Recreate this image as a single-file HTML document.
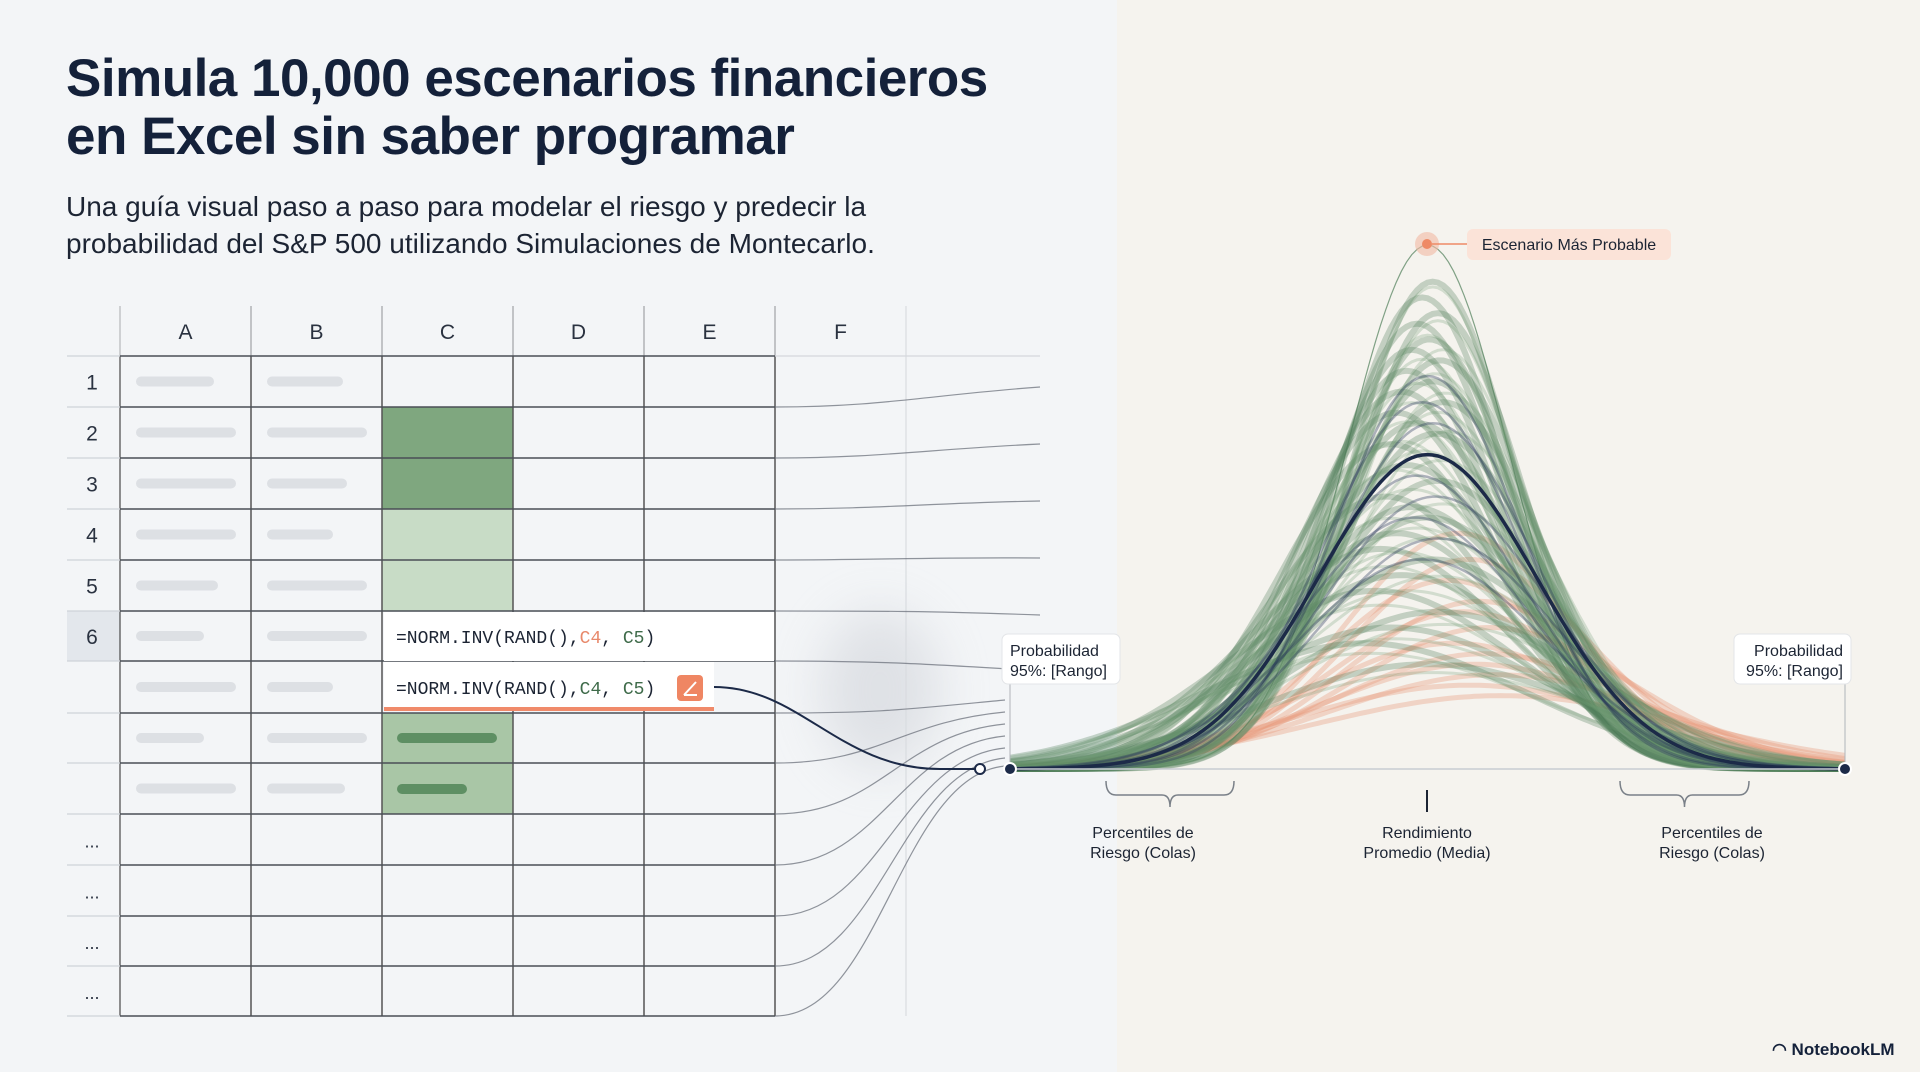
<!DOCTYPE html>
<html><head><meta charset="utf-8"><style>
html,body{margin:0;padding:0}
body{width:1920px;height:1072px;position:relative;overflow:hidden;background:#f3f5f7;font-family:"Liberation Sans",sans-serif}
.t{position:absolute;margin:0}
</style></head><body>
<div style="position:absolute;left:1117px;top:0;width:803px;height:1072px;background:#f5f3ee"></div>
<h1 class="t" style="left:66px;top:50px;font-size:53px;line-height:58px;font-weight:bold;color:#14213a;letter-spacing:-0.5px">Simula 10,000 escenarios financieros<br>en Excel sin saber programar</h1>
<p class="t" style="left:66px;top:188px;font-size:28px;line-height:37px;color:#1c2433">Una guía visual paso a paso para modelar el riesgo y predecir la<br>probabilidad del S&amp;P 500 utilizando Simulaciones de Montecarlo.</p>
<svg id="s" width="1920" height="1072" style="position:absolute;left:0;top:0">
<defs><filter id="bl" x="-50%" y="-50%" width="200%" height="200%"><feGaussianBlur stdDeviation="25"/></filter></defs>
<g id="flows0"></g><g id="sheet"></g><g id="flows"></g><g id="curves"></g><g id="ann"></g>
</svg>
<div class="t" style="left:1772px;top:1040px;font-size:17px;font-weight:bold;color:#14213a">◠ NotebookLM</div>
<script>
const NS='http://www.w3.org/2000/svg';
function mk(p,tag,a,txt){const e=document.createElementNS(NS,tag);for(const k in a)e.setAttribute(k,a[k]);if(txt!==undefined)e.textContent=txt;p.appendChild(e);return e;}
const sheet=document.getElementById('sheet');
const colX=[120,251,382,513,644,775,906];
const colLabels=['A','B','C','D','E','F'];
const rowY=[356,407,458,509,560,611,661,713,763,814,865,916,966,1016];
const rowLabels=['1','2','3','4','5','6','','','','...','...','...','...'];
mk(document.getElementById('flows0'),'ellipse',{cx:880,cy:690,rx:60,ry:80,fill:'#b9bdc6',opacity:0.35,filter:'url(#bl)'});
mk(sheet,'line',{x1:906,y1:306,x2:906,y2:1016,stroke:'#d9dce0','stroke-width':1.2});
mk(sheet,'rect',{x:67,y:611,width:53,height:50,fill:'#e3e7ec'});
const fills=[[2,1,'#7fa77f'],[2,2,'#7fa77f'],[2,3,'#c8dcc6'],[2,4,'#c8dcc6'],[2,7,'#a9c6a6'],[2,8,'#a9c6a6']];
fills.forEach(f=>mk(sheet,'rect',{x:colX[f[0]],y:rowY[f[1]],width:131,height:rowY[f[1]+1]-rowY[f[1]],fill:f[2]}));
const barA=[78,100,100,100,82,68,100,68,100];
const barB=[76,100,80,66,100,100,66,100,78];
for(let r=0;r<9;r++){
 const cy=(rowY[r]+rowY[r+1])/2;
 mk(sheet,'rect',{x:136,y:cy-5,width:barA[r],height:10,rx:5,fill:'#dde0e4'});
 mk(sheet,'rect',{x:267,y:cy-5,width:barB[r],height:10,rx:5,fill:'#dde0e4'});
}
mk(sheet,'rect',{x:397,y:733,width:100,height:10,rx:5,fill:'#5e8f63'});
mk(sheet,'rect',{x:397,y:784,width:70,height:10,rx:5,fill:'#5e8f63'});
colX.slice(0,6).forEach((x,i)=>mk(sheet,'line',{x1:x,y1:306,x2:x,y2:1016,stroke:'#555','stroke-width':i==0?1.3:1.5}));
colX.slice(0,-1).forEach((x,i)=>mk(sheet,'line',{x1:x,y1:306,x2:x,y2:356,stroke:'#d5d8dc','stroke-width':1.2}));
rowY.forEach(y=>{mk(sheet,'line',{x1:67,y1:y,x2:120,y2:y,stroke:'#cfd3d8','stroke-width':1.2});mk(sheet,'line',{x1:120,y1:y,x2:775,y2:y,stroke:'#4a4f57','stroke-width':1.5});});
mk(sheet,'line',{x1:775,y1:356,x2:1040,y2:356,stroke:'#d5d8dc','stroke-width':1.2});
colLabels.forEach((c,i)=>{const t=mk(sheet,'text',{x:(colX[i]+colX[i+1])/2,y:339,'text-anchor':'middle','font-size':21,fill:'#2a3240'},c);});
rowLabels.forEach((c,i)=>{if(c)mk(sheet,'text',{x:92,y:(rowY[i]+rowY[i+1])/2+8,'text-anchor':'middle','font-size':c=='...'?18:21,fill:'#2a3240'},c);});
mk(sheet,'rect',{x:384,y:612,width:390,height:49,fill:'#ffffff'});
mk(sheet,'rect',{x:384,y:662,width:330,height:48,fill:'#ffffff'});
mk(sheet,'rect',{x:384,y:707,width:330,height:4,fill:'#f08a6a'});
function formula(y,c4col,nm){const t=mk(sheet,'text',{x:396,y:y,'font-family':'Liberation Mono, monospace','font-size':18,fill:'#1c2433'});
 mk(t,'tspan',{},'=NORM.INV(RAND(),');mk(t,'tspan',{fill:c4col},'C4');mk(t,'tspan',{},', ');mk(t,'tspan',{fill:'#3f6b4a'},'C5');mk(t,'tspan',{},')');}
formula(643,'#e8896b','formula-row-6');formula(694,'#3f6b4a','formula-row-7');
const ic=mk(sheet,'rect',{x:677,y:675,width:26,height:26,rx:4,fill:'#ef8663'});
mk(sheet,'path',{d:'M684 695 L696 682 M684 695 L697 695',stroke:'#fff','stroke-width':2,fill:'none'});
const flows=document.getElementById('flows');
const upperRows=[407,458,509,560,611,661];
upperRows.forEach((y,i)=>{
 const d=`M775 ${y} C880 ${y} 930 ${y-12+i*3} 1040 ${y-20+i*6}`;
 mk(flows,'path',{d:d,stroke:'#6c727c','stroke-width':1.2,fill:'none',opacity:0.75});
});
const lowerRows=[713,763,814,865,916,966,1016];
const lowerEnd=[700,712,724,736,748,758,766];
lowerRows.forEach((y,i)=>{
 const t=lowerEnd[i];
 const d=`M775 ${y} C880 ${y} 900 ${t+10} 1005 ${t}`;
 mk(flows,'path',{d:d,stroke:'#6c727c','stroke-width':1.2,fill:'none',opacity:0.75});
});
mk(flows,'path',{d:'M714 687 C800 687 840 769 940 769 L975 769',stroke:'#1c2a48','stroke-width':2,fill:'none'});
mk(flows,'circle',{cx:980,cy:769,r:5,fill:'#fff',stroke:'#1c2a48','stroke-width':2});
const x0=1010,x1=1845,yb=769,ytop=245,dmin=-4,dmax=4;
const sx=v=>x0+(v-dmin)/(dmax-dmin)*(x1-x0);
const sy=v=>yb-v*(yb-ytop);
const greenAmp=[1.0,0.93,0.9,0.87,0.85,0.82,0.8,0.78,0.76,0.74,0.72,0.7,0.68,0.66,0.64,0.62,0.58,0.55,0.52,0.5,0.48,0.45,0.42,0.4,0.37,0.34,0.3,0.27,0.24,0.2];
const greenSig=[0.78,0.8,0.82,0.83,0.85,0.86,0.88,0.9,0.9,0.92,0.95,0.96,0.98,1.0,1.02,1.05,1.08,1.1,1.12,1.15,1.18,1.2,1.25,1.3,1.35,1.4,1.45,1.5,1.55,1.6];
const greenMu=[0,0.05,-0.05,0.1,-0.1,0.02,-0.15,0.12,-0.2,0.05,-0.25,0.15,-0.3,-0.1,0.08,-0.35,-0.2,0.1,-0.4,-0.15,0.0,-0.3,-0.45,0.05,-0.25,-0.5,0.1,-0.35,-0.6,0.0];
const navyAmp=[0.75,0.7,0.66,0.6,0.56,0.52,0.48,0.44,0.4];
const navySig=[0.9,0.95,0.98,1.05,1.05,1.1,1.12,1.15,1.2];
const navyMu=[0.0,-0.05,0.05,0.0,-0.1,0.08,-0.12,0.1,-0.05];
const salmonAmp=[0.45,0.4,0.36,0.32,0.3,0.27,0.24,0.22,0.2,0.18,0.16,0.14];
const salmonSig=[1.1,1.15,1.2,1.25,1.3,1.35,1.4,1.45,1.5,1.6,1.7,1.8];
const salmonMu=[0.3,0.4,0.2,0.5,0.35,0.6,0.25,0.55,0.45,0.65,0.4,0.7];
const cg=document.getElementById('curves');
function curve(a,s,m,col,w,op,nm){let d='';for(let i=0;i<=160;i++){const v=dmin+i*(dmax-dmin)/160;const y=a*Math.exp(-0.5*((v-m)/s)**2);d+=(i?'L':'M')+sx(v).toFixed(1)+' '+sy(y).toFixed(1);}
 const p=mk(cg,'path',{d:d,stroke:col,'stroke-width':w,fill:'none',opacity:op});}
salmonAmp.forEach((a,i)=>curve(a,salmonSig[i],salmonMu[i],'#e99878',5,0.35,'salmon-scenario-curve'));
greenAmp.forEach((a,i)=>curve(a,greenSig[i],greenMu[i],'#4f7d58',i==0?1.2:6,i==0?0.7:0.3,'green-scenario-curve'));
greenAmp.forEach((a,i)=>curve(a*0.92,greenSig[i]*1.04,greenMu[i]+0.05,'#6d9670',3,0.25,'green-scenario-curve'));
navyAmp.forEach((a,i)=>curve(a,navySig[i],navyMu[i],'#25355a',2.5,0.35,'navy-scenario-curve'));
curve(0.6,1.05,0,'#1c2a48',3.5,1,'mean-curve');
const ann=document.getElementById('ann');
mk(ann,'line',{x1:1010,y1:769,x2:1845,y2:769,stroke:'#c8ccd2','stroke-width':1.5});
mk(ann,'line',{x1:1010,y1:684,x2:1010,y2:769,stroke:'#b0b4ba','stroke-width':1});
mk(ann,'line',{x1:1845,y1:684,x2:1845,y2:769,stroke:'#b0b4ba','stroke-width':1});
[1010,1845].forEach(x=>mk(ann,'circle',{cx:x,cy:769,r:6,fill:'#1c2a48',stroke:'#fff','stroke-width':2}));
function box(x,y,w,h,lines,anchor,nm){const g=mk(ann,'g',{});
 mk(g,'rect',{x:x,y:y,width:w,height:h,rx:6,fill:'#fff',stroke:'#e3e5e8'});
 lines.forEach((l,i)=>mk(g,'text',{x:anchor=='end'?x+w-8:x+8,y:y+22+i*20,'text-anchor':anchor,'font-size':16,fill:'#1c2433'},l));}
box(1002,634,118,50,['Probabilidad','95%: [Rango]'],'start','range-label-left');
box(1734,634,117,50,['Probabilidad','95%: [Rango]'],'end','range-label-right');
function brace(a,b,y){const m=(a+b)/2;mk(ann,'path',{d:`M${a} ${y} q0 14 10 14 L${m-8} ${y+14} q8 0 8 12 q0 -12 8 -12 L${b-10} ${y+14} q10 0 10 -14`,stroke:'#7a8088','stroke-width':1.5,fill:'none'});}
brace(1106,1234,781);brace(1620,1749,781);
mk(ann,'line',{x1:1427,y1:790,x2:1427,y2:812,stroke:'#1c2433','stroke-width':2});
function lab(x,l,nm){const g=mk(ann,'g',{});l.forEach((t,i)=>mk(g,'text',{x:x,y:838+i*20,'text-anchor':'middle','font-size':16,fill:'#1c2433'},t));}
lab(1143,['Percentiles de','Riesgo (Colas)'],'tail-label-left');
lab(1427,['Rendimiento','Promedio (Media)'],'mean-label');
lab(1712,['Percentiles de','Riesgo (Colas)'],'tail-label-right');
mk(ann,'circle',{cx:1427,cy:244,r:12,fill:'#f2b9a3',opacity:0.6});
mk(ann,'circle',{cx:1427,cy:244,r:5,fill:'#ee8a66'});
mk(ann,'line',{x1:1432,y1:244,x2:1467,y2:244,stroke:'#ee8a66','stroke-width':1.5});
const pill=mk(ann,'g',{});
mk(pill,'rect',{x:1467,y:229,width:204,height:31,rx:6,fill:'#fbe3d8'});
mk(pill,'text',{x:1569,y:250,'text-anchor':'middle','font-size':16,fill:'#1c2433'},'Escenario Más Probable');
</script>
</body></html>
